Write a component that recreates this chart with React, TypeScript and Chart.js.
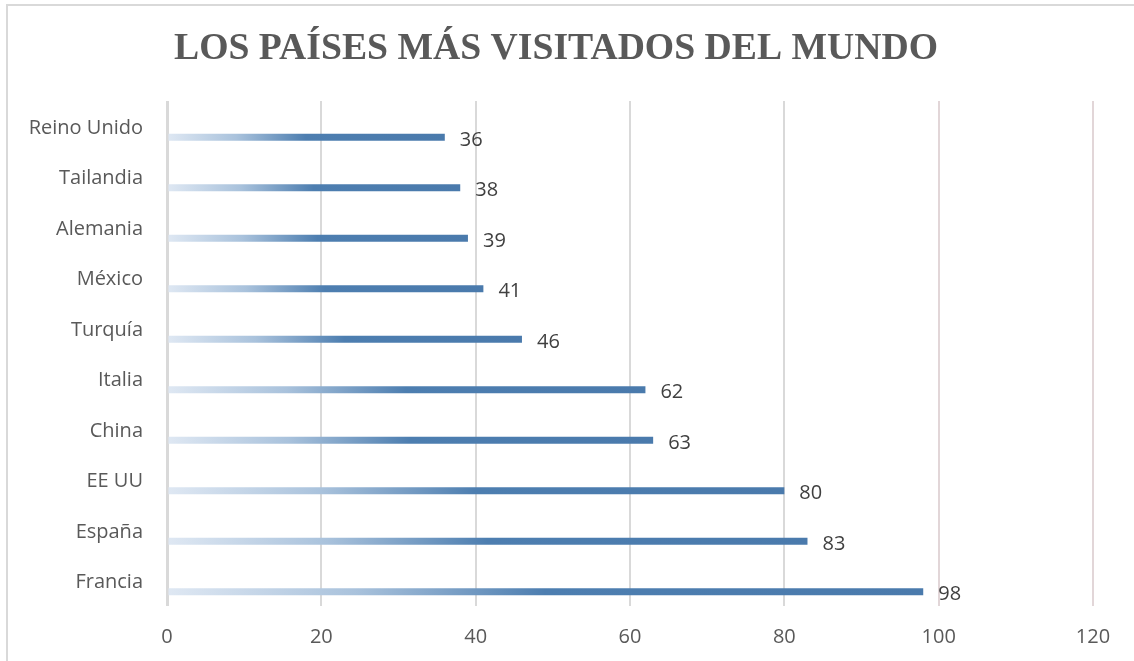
import React, { useEffect, useRef } from "react";
import { Chart, registerables } from "chart.js";

Chart.register(...registerables);

const TITLE = "LOS PAÍSES MÁS VISITADOS DEL MUNDO";
const countries = [
  "Reino Unido",
  "Tailandia",
  "Alemania",
  "México",
  "Turquía",
  "Italia",
  "China",
  "EE UU",
  "España",
  "Francia",
];
const visitors = [36, 38, 39, 41, 46, 62, 63, 80, 83, 98];
const spacer = countries.map(() => null);
const xTicks = [0, 20, 40, 60, 80, 100, 120];

const valueLabels = {
  id: "valueLabels",
  afterDatasetsDraw(chart: any) {
    const ctx = chart.ctx;
    const meta = chart.getDatasetMeta(1);
    ctx.save();
    ctx.font = '20px "Open Sans", sans-serif';
    ctx.fillStyle = "#404040";
    ctx.textAlign = "left";
    ctx.textBaseline = "middle";
    meta.data.forEach((bar: any, i: number) => {
      ctx.fillText(String(visitors[i]), bar.x + 15, bar.y + 3);
    });
    ctx.restore();
  },
};

export default function App() {
  const ref = useRef<HTMLCanvasElement>(null);
  useEffect(() => {
    if (!ref.current) return;
    const chart = new Chart(ref.current, {
      type: "bar",
      data: {
        labels: countries,
        datasets: [
          { label: "spacer", data: spacer as any, backgroundColor: "transparent" },
          {
            label: "Visitantes",
            data: visitors,
            backgroundColor: (c: any) => {
              const chart = c.chart;
              const area = chart.chartArea;
              if (!area || c.dataIndex === undefined) return "#4a7aad";
              const xs = chart.scales.x;
              const x0 = xs.getPixelForValue(0);
              const x1 = xs.getPixelForValue(visitors[c.dataIndex]);
              const g = chart.ctx.createLinearGradient(x0, 0, x1, 0);
              g.addColorStop(0, "#dfe8f3");
              g.addColorStop(0.25, "#a9c2dc");
              g.addColorStop(0.5, "#4d7eb0");
              g.addColorStop(1, "#4a7aac");
              return g;
            },
          },
        ],
      },
      options: {
        indexAxis: "y",
        animation: false,
        responsive: false,
        maintainAspectRatio: false,
        categoryPercentage: 0.87,
        barPercentage: 0.32,
        layout: { padding: { left: 19, right: 41, top: 0, bottom: 0 } },
        plugins: {
          legend: { display: false },
          tooltip: { enabled: false },
          title: {
            display: true,
            text: TITLE,
            color: "#595959",
            font: { family: '"Liberation Serif", "Times New Roman", serif', size: 37.7, weight: "bold", lineHeight: 1.2 },
            padding: { top: 27, bottom: 28.8 },
          },
        },
        scales: {
          x: {
            min: 0,
            max: 120,
            afterBuildTicks: (s: any) => {
              s.ticks = xTicks.map((v) => ({ value: v }));
            },
            afterFit: (s: any) => {
              s.height = 55;
            },
            grid: {
              color: (c: any) => (c.tick && c.tick.value >= 100 ? "#e2d6d8" : "#d9d9d9"),
              lineWidth: (c: any) => (c.tick && c.tick.value === 0 ? 3 : 2),
              drawTicks: false,
            },
            border: { display: false },
            ticks: {
              color: "#595959",
              padding: 19,
              font: { family: '"Open Sans", sans-serif', size: 20 },
            },
          },
          y: {
            afterFit: (s: any) => {
              s.width = 148;
            },
            grid: { display: false, drawTicks: false },
            border: { display: false },
            ticks: {
              color: "#595959",
              padding: 24,
              labelOffset: 2,
              font: { family: '"Open Sans", sans-serif', size: 20 },
            },
          },
        },
      },
      plugins: [valueLabels],
    });
    return () => chart.destroy();
  }, []);
  return (
    <div style={{ position: "absolute", left: 0, top: 0, width: 1134, height: 661, background: "#fff", overflow: "hidden" }}>
      <div
        style={{
          position: "absolute",
          left: 6,
          top: 4,
          width: 1140,
          height: 700,
          border: "2px solid #d9d9d9",
          boxSizing: "border-box",
        }}
      />
      <canvas ref={ref} width={1134} height={661} style={{ position: "absolute", left: 0, top: 0 }} />
    </div>
  );
}
